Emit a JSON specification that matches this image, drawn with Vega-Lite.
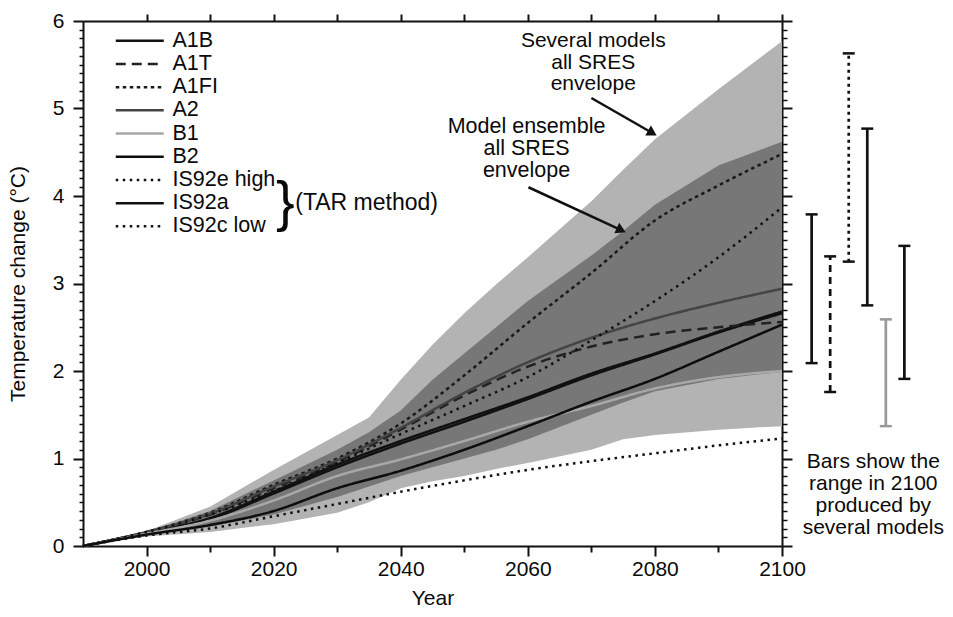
{
  "$schema": "https://vega.github.io/schema/vega-lite/v6.json",
  "padding": {"left": 7, "top": 10, "right": 0, "bottom": 5},
  "background": "white",
  "config": {
    "font": "Liberation Sans",
    "view": {"stroke": null},
    "axis": {"labelFont": "Liberation Sans", "titleFont": "Liberation Sans", "labelColor": "#0a0a0a", "titleColor": "#0a0a0a", "tickColor": "#111", "domainColor": "#111", "grid": false, "titleFontWeight": "normal"},
    "text": {"font": "Liberation Sans", "color": "#0a0a0a"}
  },
  "bounds": "flush",
  "spacing": 12,
  "datasets": {
    "env": [
      {"year": 1990, "light_lo": 0, "light_hi": 0, "dark_lo": 0, "dark_hi": 0},
      {"year": 2000, "light_lo": 0.11, "light_hi": 0.17, "dark_lo": 0.13, "dark_hi": 0.16},
      {"year": 2010, "light_lo": 0.16, "light_hi": 0.45, "dark_lo": 0.22, "dark_hi": 0.4},
      {"year": 2020, "light_lo": 0.25, "light_hi": 0.87, "dark_lo": 0.36, "dark_hi": 0.75},
      {"year": 2030, "light_lo": 0.38, "light_hi": 1.27, "dark_lo": 0.56, "dark_hi": 1.1},
      {"year": 2035, "light_lo": 0.5, "light_hi": 1.47, "dark_lo": 0.68, "dark_hi": 1.3},
      {"year": 2040, "light_lo": 0.66, "light_hi": 1.9, "dark_lo": 0.8, "dark_hi": 1.55},
      {"year": 2045, "light_lo": 0.74, "light_hi": 2.3, "dark_lo": 0.9, "dark_hi": 1.9},
      {"year": 2050, "light_lo": 0.8, "light_hi": 2.66, "dark_lo": 1.0, "dark_hi": 2.2},
      {"year": 2055, "light_lo": 0.88, "light_hi": 2.99, "dark_lo": 1.1, "dark_hi": 2.5},
      {"year": 2060, "light_lo": 0.95, "light_hi": 3.3, "dark_lo": 1.22, "dark_hi": 2.8},
      {"year": 2070, "light_lo": 1.1, "light_hi": 3.94, "dark_lo": 1.5, "dark_hi": 3.32},
      {"year": 2075, "light_lo": 1.22, "light_hi": 4.3, "dark_lo": 1.64, "dark_hi": 3.6},
      {"year": 2080, "light_lo": 1.27, "light_hi": 4.65, "dark_lo": 1.77, "dark_hi": 3.9},
      {"year": 2090, "light_lo": 1.33, "light_hi": 5.22, "dark_lo": 1.91, "dark_hi": 4.35},
      {"year": 2100, "light_lo": 1.37, "light_hi": 5.77, "dark_lo": 1.99, "dark_hi": 4.62}
    ],
    "series": [
      {"scenario": "IS92a", "year": 1990, "t": 0}, {"scenario": "IS92a", "year": 2000, "t": 0.15}, {"scenario": "IS92a", "year": 2010, "t": 0.31}, {"scenario": "IS92a", "year": 2020, "t": 0.6}, {"scenario": "IS92a", "year": 2030, "t": 0.9}, {"scenario": "IS92a", "year": 2040, "t": 1.17}, {"scenario": "IS92a", "year": 2050, "t": 1.42}, {"scenario": "IS92a", "year": 2060, "t": 1.68}, {"scenario": "IS92a", "year": 2070, "t": 1.95}, {"scenario": "IS92a", "year": 2080, "t": 2.19}, {"scenario": "IS92a", "year": 2090, "t": 2.44}, {"scenario": "IS92a", "year": 2100, "t": 2.66},
      {"scenario": "A1B", "year": 1990, "t": 0}, {"scenario": "A1B", "year": 2000, "t": 0.15}, {"scenario": "A1B", "year": 2010, "t": 0.32}, {"scenario": "A1B", "year": 2020, "t": 0.62}, {"scenario": "A1B", "year": 2030, "t": 0.93}, {"scenario": "A1B", "year": 2040, "t": 1.2}, {"scenario": "A1B", "year": 2050, "t": 1.45}, {"scenario": "A1B", "year": 2060, "t": 1.7}, {"scenario": "A1B", "year": 2070, "t": 1.97}, {"scenario": "A1B", "year": 2080, "t": 2.2}, {"scenario": "A1B", "year": 2090, "t": 2.45}, {"scenario": "A1B", "year": 2100, "t": 2.68},
      {"scenario": "A1T", "year": 1990, "t": 0}, {"scenario": "A1T", "year": 2000, "t": 0.16}, {"scenario": "A1T", "year": 2010, "t": 0.36}, {"scenario": "A1T", "year": 2020, "t": 0.66}, {"scenario": "A1T", "year": 2030, "t": 0.96}, {"scenario": "A1T", "year": 2040, "t": 1.33}, {"scenario": "A1T", "year": 2050, "t": 1.72}, {"scenario": "A1T", "year": 2060, "t": 2.05}, {"scenario": "A1T", "year": 2070, "t": 2.28}, {"scenario": "A1T", "year": 2080, "t": 2.42}, {"scenario": "A1T", "year": 2090, "t": 2.5}, {"scenario": "A1T", "year": 2100, "t": 2.56},
      {"scenario": "A1FI", "year": 1990, "t": 0}, {"scenario": "A1FI", "year": 2000, "t": 0.16}, {"scenario": "A1FI", "year": 2010, "t": 0.38}, {"scenario": "A1FI", "year": 2020, "t": 0.7}, {"scenario": "A1FI", "year": 2030, "t": 1.0}, {"scenario": "A1FI", "year": 2040, "t": 1.4}, {"scenario": "A1FI", "year": 2050, "t": 1.95}, {"scenario": "A1FI", "year": 2060, "t": 2.55}, {"scenario": "A1FI", "year": 2070, "t": 3.12}, {"scenario": "A1FI", "year": 2080, "t": 3.72}, {"scenario": "A1FI", "year": 2090, "t": 4.12}, {"scenario": "A1FI", "year": 2100, "t": 4.48},
      {"scenario": "A2", "year": 1990, "t": 0}, {"scenario": "A2", "year": 2000, "t": 0.16}, {"scenario": "A2", "year": 2010, "t": 0.37}, {"scenario": "A2", "year": 2020, "t": 0.68}, {"scenario": "A2", "year": 2030, "t": 0.98}, {"scenario": "A2", "year": 2040, "t": 1.35}, {"scenario": "A2", "year": 2050, "t": 1.75}, {"scenario": "A2", "year": 2060, "t": 2.1}, {"scenario": "A2", "year": 2070, "t": 2.38}, {"scenario": "A2", "year": 2080, "t": 2.6}, {"scenario": "A2", "year": 2090, "t": 2.78}, {"scenario": "A2", "year": 2100, "t": 2.94},
      {"scenario": "B1", "year": 1990, "t": 0}, {"scenario": "B1", "year": 2000, "t": 0.14}, {"scenario": "B1", "year": 2010, "t": 0.29}, {"scenario": "B1", "year": 2020, "t": 0.52}, {"scenario": "B1", "year": 2030, "t": 0.8}, {"scenario": "B1", "year": 2040, "t": 0.99}, {"scenario": "B1", "year": 2050, "t": 1.2}, {"scenario": "B1", "year": 2060, "t": 1.42}, {"scenario": "B1", "year": 2070, "t": 1.6}, {"scenario": "B1", "year": 2080, "t": 1.8}, {"scenario": "B1", "year": 2090, "t": 1.93}, {"scenario": "B1", "year": 2100, "t": 2.0},
      {"scenario": "B2", "year": 1990, "t": 0}, {"scenario": "B2", "year": 2000, "t": 0.13}, {"scenario": "B2", "year": 2010, "t": 0.24}, {"scenario": "B2", "year": 2020, "t": 0.4}, {"scenario": "B2", "year": 2030, "t": 0.66}, {"scenario": "B2", "year": 2040, "t": 0.86}, {"scenario": "B2", "year": 2050, "t": 1.1}, {"scenario": "B2", "year": 2060, "t": 1.37}, {"scenario": "B2", "year": 2070, "t": 1.65}, {"scenario": "B2", "year": 2080, "t": 1.91}, {"scenario": "B2", "year": 2090, "t": 2.22}, {"scenario": "B2", "year": 2100, "t": 2.53},
      {"scenario": "IS92e high", "year": 1990, "t": 0}, {"scenario": "IS92e high", "year": 2000, "t": 0.16}, {"scenario": "IS92e high", "year": 2010, "t": 0.36}, {"scenario": "IS92e high", "year": 2020, "t": 0.63}, {"scenario": "IS92e high", "year": 2030, "t": 0.95}, {"scenario": "IS92e high", "year": 2040, "t": 1.28}, {"scenario": "IS92e high", "year": 2050, "t": 1.6}, {"scenario": "IS92e high", "year": 2060, "t": 1.93}, {"scenario": "IS92e high", "year": 2070, "t": 2.35}, {"scenario": "IS92e high", "year": 2080, "t": 2.8}, {"scenario": "IS92e high", "year": 2090, "t": 3.3}, {"scenario": "IS92e high", "year": 2100, "t": 3.87},
      {"scenario": "IS92c low", "year": 1990, "t": 0}, {"scenario": "IS92c low", "year": 2000, "t": 0.12}, {"scenario": "IS92c low", "year": 2010, "t": 0.2}, {"scenario": "IS92c low", "year": 2020, "t": 0.34}, {"scenario": "IS92c low", "year": 2030, "t": 0.48}, {"scenario": "IS92c low", "year": 2040, "t": 0.62}, {"scenario": "IS92c low", "year": 2050, "t": 0.75}, {"scenario": "IS92c low", "year": 2060, "t": 0.87}, {"scenario": "IS92c low", "year": 2070, "t": 0.97}, {"scenario": "IS92c low", "year": 2080, "t": 1.06}, {"scenario": "IS92c low", "year": 2090, "t": 1.15}, {"scenario": "IS92c low", "year": 2100, "t": 1.23}
    ],
    "bars": [
      {"scenario": "A1B", "lo": 2.09, "hi": 3.79},
      {"scenario": "A1T", "lo": 1.76, "hi": 3.31},
      {"scenario": "A1FI", "lo": 3.25, "hi": 5.63},
      {"scenario": "A2", "lo": 2.75, "hi": 4.77},
      {"scenario": "B1", "lo": 1.37, "hi": 2.59},
      {"scenario": "B2", "lo": 1.91, "hi": 3.43}
    ]
  },
  "resolve": {
    "scale": {"x": "independent", "y": "independent", "color": "independent", "strokeDash": "independent", "strokeWidth": "independent"},
    "legend": {"color": "independent", "strokeDash": "independent", "strokeWidth": "independent"}
  },
  "hconcat": [
    {
      "width": 699,
      "height": 525,
      "resolve": {"axis": {"x": "independent", "y": "independent"}},
      "layer": [
        {
          "data": {"name": "env"},
          "mark": {"type": "area", "color": "#b3b3b3", "opacity": 1},
          "encoding": {
            "x": {"field": "year", "type": "quantitative", "scale": {"domain": [1990, 2100], "nice": false, "zero": false},
                  "axis": {"orient": "bottom", "values": [2000, 2020, 2040, 2060, 2080, 2100], "format": "d", "tickSize": 10, "tickWidth": 2, "domainWidth": 2, "labelFontSize": 21, "labelPadding": 2, "labelFlush": false, "labelOverlap": false, "title": "Year", "titleFontSize": 21, "titlePadding": 8}},
            "y": {"field": "light_lo", "type": "quantitative", "scale": {"domain": [0, 6], "nice": false, "zero": false},
                  "axis": {"orient": "left", "values": [0, 1, 2, 3, 4, 5, 6], "tickSize": 10, "tickWidth": 2, "domainWidth": 2, "labelFontSize": 21, "labelPadding": 9, "labelFlush": false, "title": "Temperature change (°C)", "titleFontSize": 21, "titlePadding": 24}},
            "y2": {"field": "light_hi"}
          }
        },
        {
          "data": {"name": "env"},
          "mark": {"type": "area", "color": "#777777", "opacity": 1},
          "encoding": {
            "x": {"field": "year", "type": "quantitative", "scale": {"domain": [1990, 2100], "nice": false, "zero": false},
                  "axis": {"orient": "top", "values": [2000, 2010, 2020, 2030, 2040, 2050, 2060, 2070, 2080, 2090, 2100], "labels": false, "tickSize": 7, "tickWidth": 2, "domainWidth": 2, "title": null}},
            "y": {"field": "dark_lo", "type": "quantitative", "scale": {"domain": [0, 6], "nice": false, "zero": false},
                  "axis": {"orient": "right", "values": [0, 1, 2, 3, 4, 5, 6], "labels": false, "tickSize": 10, "tickWidth": 2, "domainWidth": 2, "title": null}},
            "y2": {"field": "dark_hi"}
          }
        },
        {
          "data": {"name": "series"},
          "mark": {"type": "line", "interpolate": "monotone"},
          "encoding": {
            "x": {"field": "year", "type": "quantitative", "scale": {"domain": [1990, 2100], "nice": false, "zero": false},
                  "axis": {"orient": "bottom", "values": [2010, 2030, 2050, 2070, 2090], "labels": false, "tickSize": 6, "tickWidth": 2, "domain": false, "title": null}},
            "y": {"field": "t", "type": "quantitative", "scale": {"domain": [0, 6], "nice": false, "zero": false},
                  "axis": {"orient": "left", "values": [0.1,0.2,0.3,0.4,0.5,0.6,0.7,0.8,0.9,1.1,1.2,1.3,1.4,1.5,1.6,1.7,1.8,1.9,2.1,2.2,2.3,2.4,2.5,2.6,2.7,2.8,2.9,3.1,3.2,3.3,3.4,3.5,3.6,3.7,3.8,3.9,4.1,4.2,4.3,4.4,4.5,4.6,4.7,4.8,4.9,5.1,5.2,5.3,5.4,5.5,5.6,5.7,5.8,5.9], "labels": false, "tickSize": 4, "tickWidth": 1.5, "domain": false, "title": null}},
            "color": {"field": "scenario", "type": "nominal",
                      "scale": {"domain": ["A1B", "A1T", "A1FI", "A2", "B1", "B2", "IS92e high", "IS92a", "IS92c low"], "range": ["#111111", "#222222", "#1a1a1a", "#444444", "#a8a8a8", "#0d0d0d", "#111111", "#111111", "#111111"]},
                      "legend": {"title": null, "orient": "none", "legendX": 46, "legendY": 9, "symbolType": "M-4,0H4", "symbolSize": 144, "labelFontSize": 21.5, "labelFont": "Liberation Sans", "labelColor": "#0a0a0a", "rowPadding": 0.2, "labelOffset": 22, "padding": 0}},
            "strokeDash": {"field": "scenario", "type": "nominal",
                      "scale": {"domain": ["A1B", "A1T", "A1FI", "A2", "B1", "B2", "IS92e high", "IS92a", "IS92c low"], "range": [[1, 0], [10, 6], [3.5, 3.5], [1, 0], [1, 0], [1, 0], [2.5, 4.5], [1, 0], [2.5, 4.5]]},
                      "legend": {"title": null, "orient": "none", "legendX": 46, "legendY": 9, "symbolType": "M-4,0H4", "symbolSize": 144, "labelFontSize": 21.5, "labelFont": "Liberation Sans", "labelColor": "#0a0a0a", "rowPadding": 0.2, "labelOffset": 22, "padding": 0}},
            "strokeWidth": {"field": "scenario", "type": "nominal",
                      "scale": {"domain": ["A1B", "A1T", "A1FI", "A2", "B1", "B2", "IS92e high", "IS92a", "IS92c low"], "range": [2.5, 2.5, 2.7, 2.5, 2.5, 3, 2.2, 1.8, 2.4]},
                      "legend": {"title": null, "orient": "none", "legendX": 46, "legendY": 9, "symbolType": "M-4,0H4", "symbolSize": 144, "labelFontSize": 21.5, "labelFont": "Liberation Sans", "labelColor": "#0a0a0a", "rowPadding": 0.2, "labelOffset": 22, "padding": 0}}
          }
        },
        {
          "data": {"values": [{}]},
          "mark": {"type": "rule", "color": "#111", "strokeWidth": 2.5},
          "encoding": {
            "x": {"datum": 2070.0, "type": "quantitative", "scale": {"domain": [1990, 2100], "nice": false, "zero": false}, "axis": null},
            "y": {"datum": 5.12, "type": "quantitative", "scale": {"domain": [0, 6], "nice": false, "zero": false},
                  "axis": {"orient": "right", "values": [0.1,0.2,0.3,0.4,0.5,0.6,0.7,0.8,0.9,1.1,1.2,1.3,1.4,1.5,1.6,1.7,1.8,1.9,2.1,2.2,2.3,2.4,2.5,2.6,2.7,2.8,2.9,3.1,3.2,3.3,3.4,3.5,3.6,3.7,3.8,3.9,4.1,4.2,4.3,4.4,4.5,4.6,4.7,4.8,4.9,5.1,5.2,5.3,5.4,5.5,5.6,5.7,5.8,5.9], "labels": false, "tickSize": 5, "tickWidth": 1.5, "domain": false, "title": null}},
            "x2": {"datum": 2079.6},
            "y2": {"datum": 4.72}
          }
        },
        {
          "data": {"values": [{}]},
          "mark": {"type": "rule", "color": "#111", "strokeWidth": 2.5},
          "encoding": {
            "x": {"datum": 2060.1, "type": "quantitative", "scale": {"domain": [1990, 2100], "nice": false, "zero": false}, "axis": null},
            "y": {"datum": 4.10, "type": "quantitative", "scale": {"domain": [0, 6], "nice": false, "zero": false}, "axis": null},
            "x2": {"datum": 2074.7},
            "y2": {"datum": 3.61}
          }
        },
        {
          "data": {"values": [{}]},
          "mark": {"type": "point", "shape": "triangle-right", "filled": true, "color": "#111", "opacity": 1, "size": 130, "angle": 30},
          "encoding": {
            "x": {"datum": 2079.6, "type": "quantitative", "scale": {"domain": [1990, 2100], "nice": false, "zero": false}, "axis": null},
            "y": {"datum": 4.72, "type": "quantitative", "scale": {"domain": [0, 6], "nice": false, "zero": false}, "axis": null}
          }
        },
        {
          "data": {"values": [{}]},
          "mark": {"type": "point", "shape": "triangle-right", "filled": true, "color": "#111", "opacity": 1, "size": 130, "angle": 25},
          "encoding": {
            "x": {"datum": 2074.7, "type": "quantitative", "scale": {"domain": [1990, 2100], "nice": false, "zero": false}, "axis": null},
            "y": {"datum": 3.61, "type": "quantitative", "scale": {"domain": [0, 6], "nice": false, "zero": false}, "axis": null}
          }
        },
        {
          "data": {"values": [{}]},
          "mark": {"type": "text", "text": ["Several models", "all SRES", "envelope"], "fontSize": 21, "lineHeight": 21.5, "align": "center", "baseline": "middle", "color": "#0a0a0a"},
          "encoding": {
            "x": {"datum": 2070.3, "type": "quantitative", "scale": {"domain": [1990, 2100], "nice": false, "zero": false}, "axis": null},
            "y": {"datum": 5.77, "type": "quantitative", "scale": {"domain": [0, 6], "nice": false, "zero": false}, "axis": null}
          }
        },
        {
          "data": {"values": [{}]},
          "mark": {"type": "text", "text": ["Model ensemble", "all SRES", "envelope"], "fontSize": 21.5, "lineHeight": 22, "align": "center", "baseline": "middle", "color": "#0a0a0a"},
          "encoding": {
            "x": {"datum": 2059.8, "type": "quantitative", "scale": {"domain": [1990, 2100], "nice": false, "zero": false}, "axis": null},
            "y": {"datum": 4.79, "type": "quantitative", "scale": {"domain": [0, 6], "nice": false, "zero": false}, "axis": null}
          }
        },
        {
          "data": {"values": [{}]},
          "mark": {"type": "text", "text": "(TAR method)", "fontSize": 23, "align": "left", "baseline": "middle", "color": "#0a0a0a"},
          "encoding": {
            "x": {"datum": 2023.4, "type": "quantitative", "scale": {"domain": [1990, 2100], "nice": false, "zero": false}, "axis": null},
            "y": {"datum": 3.92, "type": "quantitative", "scale": {"domain": [0, 6], "nice": false, "zero": false}, "axis": null}
          }
        },
        {
          "data": {"values": [{}]},
          "mark": {"type": "text", "text": "}", "fontSize": 56, "font": "Liberation Sans", "fontWeight": "normal", "align": "center", "baseline": "middle", "color": "#0a0a0a"},
          "encoding": {
            "x": {"datum": 2021.85, "type": "quantitative", "scale": {"domain": [1990, 2100], "nice": false, "zero": false}, "axis": null},
            "y": {"datum": 3.92, "type": "quantitative", "scale": {"domain": [0, 6], "nice": false, "zero": false}, "axis": null}
          }
        }
      ]
    },
    {
      "width": 128,
      "height": 525,
      "layer": [
        {
          "data": {"name": "bars"},
          "mark": {"type": "rule"},
          "encoding": {
            "x": {"field": "scenario", "type": "nominal", "scale": {"type": "point", "domain": ["A1B", "A1T", "A1FI", "A2", "B1", "B2"], "padding": 0.95}, "axis": null},
            "y": {"field": "lo", "type": "quantitative", "scale": {"domain": [0, 6], "nice": false, "zero": false}, "axis": null},
            "y2": {"field": "hi"},
            "color": {"field": "scenario", "type": "nominal", "scale": {"domain": ["A1B", "A1T", "A1FI", "A2", "B1", "B2"], "range": ["#111111", "#111111", "#111111", "#111111", "#999999", "#111111"]}, "legend": null},
            "strokeDash": {"field": "scenario", "type": "nominal", "scale": {"domain": ["A1B", "A1T", "A1FI", "A2", "B1", "B2"], "range": [[1, 0], [7, 5], [3, 4], [1, 0], [1, 0], [1, 0]]}, "legend": null},
            "strokeWidth": {"field": "scenario", "type": "nominal", "scale": {"domain": ["A1B", "A1T", "A1FI", "A2", "B1", "B2"], "range": [2.7, 2.7, 3.2, 2.7, 3, 3]}, "legend": null}
          }
        },
        {
          "data": {"name": "bars"},
          "mark": {"type": "tick", "size": 12, "thickness": 2.5, "opacity": 1},
          "encoding": {
            "x": {"field": "scenario", "type": "nominal", "scale": {"type": "point", "domain": ["A1B", "A1T", "A1FI", "A2", "B1", "B2"], "padding": 0.95}, "axis": null},
            "y": {"field": "lo", "type": "quantitative", "scale": {"domain": [0, 6], "nice": false, "zero": false}, "axis": null},
            "color": {"field": "scenario", "type": "nominal", "scale": {"domain": ["A1B", "A1T", "A1FI", "A2", "B1", "B2"], "range": ["#111111", "#111111", "#111111", "#111111", "#999999", "#111111"]}, "legend": null}
          }
        },
        {
          "data": {"name": "bars"},
          "mark": {"type": "tick", "size": 12, "thickness": 2.5, "opacity": 1},
          "encoding": {
            "x": {"field": "scenario", "type": "nominal", "scale": {"type": "point", "domain": ["A1B", "A1T", "A1FI", "A2", "B1", "B2"], "padding": 0.95}, "axis": null},
            "y": {"field": "hi", "type": "quantitative", "scale": {"domain": [0, 6], "nice": false, "zero": false}, "axis": null},
            "color": {"field": "scenario", "type": "nominal", "scale": {"domain": ["A1B", "A1T", "A1FI", "A2", "B1", "B2"], "range": ["#111111", "#111111", "#111111", "#111111", "#999999", "#111111"]}, "legend": null}
          }
        },
        {
          "data": {"values": [{}]},
          "mark": {"type": "text", "text": ["Bars show the", "range in 2100", "produced by", "several models"], "fontSize": 21, "lineHeight": 22, "align": "center", "baseline": "middle", "color": "#0a0a0a", "dx": 6},
          "encoding": {
            "x": {"datum": "A2", "type": "nominal", "scale": {"type": "point", "domain": ["A1B", "A1T", "A1FI", "A2", "B1", "B2"], "padding": 0.95}, "axis": null},
            "y": {"datum": 0.96, "type": "quantitative", "scale": {"domain": [0, 6], "nice": false, "zero": false}, "axis": null}
          }
        }
      ]
    }
  ]
}
